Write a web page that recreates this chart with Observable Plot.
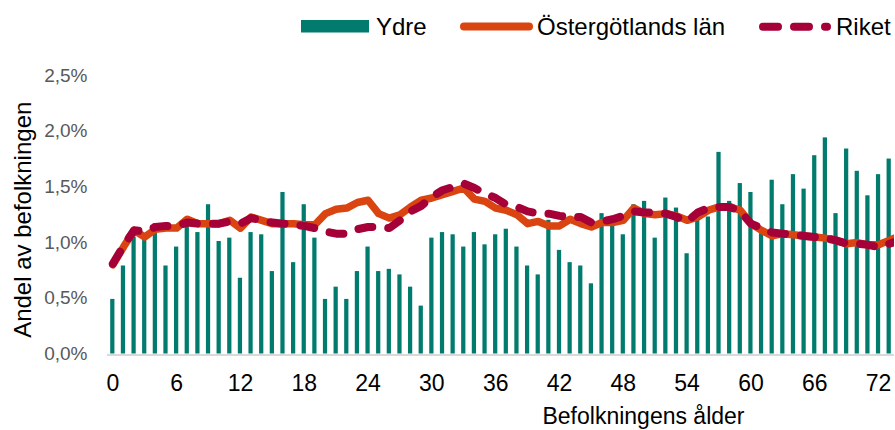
<!DOCTYPE html>
<html>
<head>
<meta charset="utf-8">
<script src="https://cdn.jsdelivr.net/npm/d3@7"></script>
<script src="https://cdn.jsdelivr.net/npm/@observablehq/plot@0.6"></script>
<style>
  html, body { margin: 0; padding: 0; background: #fff; }
  #wrap { position: relative; width: 895px; height: 430px; font-family: "Liberation Sans", Arial, sans-serif; }
  #legend { position: absolute; left: 0; top: 0; }
</style>
</head>
<body>
<div id="wrap"></div>
<script>
// Ages (bars) 0..73
const ages = d3.range(0, 74);
// Ydre share of population by age (%)
const ydre = [0.49,0.79,1.05,1.05,1.17,0.79,0.96,1.16,1.09,1.34,
              1.01,1.04,0.68,1.09,1.07,0.74,1.45,0.82,1.34,1.04,
              0.49,0.60,0.49,0.74,0.96,0.74,0.76,0.71,0.60,0.43,
              1.04,1.09,1.07,0.96,1.09,0.98,1.07,1.12,0.96,0.79,
              0.71,1.20,0.93,0.82,0.79,0.63,1.26,1.16,1.07,1.34,
              1.37,1.04,1.40,1.31,0.90,1.20,1.23,1.81,1.37,1.53,
              1.45,1.08,1.56,1.34,1.61,1.48,1.78,1.94,1.26,1.84,
              1.64,1.42,1.61,1.75];
// Line ages 0..74 (last one runs off the right edge)
const lineAges = d3.range(0, 75);
const ostergotland = [0.80,0.96,1.11,1.05,1.12,1.13,1.13,1.21,1.17,1.17,
                      1.17,1.20,1.13,1.23,1.20,1.17,1.17,1.17,1.16,1.16,
                      1.26,1.30,1.31,1.36,1.38,1.26,1.22,1.25,1.32,1.38,
                      1.40,1.43,1.46,1.49,1.39,1.37,1.31,1.29,1.25,1.17,
                      1.19,1.15,1.15,1.21,1.17,1.14,1.18,1.18,1.20,1.31,
                      1.26,1.25,1.26,1.24,1.20,1.23,1.29,1.32,1.32,1.29,
                      1.17,1.11,1.06,1.08,1.07,1.06,1.05,1.04,1.02,0.99,
                      1.00,0.98,0.98,1.02,1.06];
const riket = [0.81,0.97,1.11,1.10,1.14,1.15,1.15,1.18,1.17,1.17,
               1.17,1.19,1.17,1.22,1.20,1.18,1.17,1.16,1.15,1.13,
               1.10,1.08,1.08,1.12,1.14,1.14,1.13,1.20,1.28,1.33,
               1.41,1.47,1.50,1.53,1.49,1.44,1.40,1.34,1.32,1.28,
               1.26,1.26,1.24,1.23,1.23,1.18,1.19,1.21,1.24,1.28,
               1.27,1.27,1.26,1.23,1.19,1.27,1.31,1.32,1.32,1.28,
               1.17,1.13,1.09,1.08,1.07,1.06,1.05,1.04,1.02,0.99,
               0.99,0.98,0.96,0.99,1.02];
const xTicks = d3.range(0, 73, 6);
const yTicks = [0, 0.5, 1.0, 1.5, 2.0, 2.5];
const seriesNames = ["Ydre", "Östergötlands län", "Riket"];
const colors = ["#007B6E", "#DA4410", "#A50037"];

const bars = ages.map((a, i) => ({age: a, value: ydre[i]}));
const ostData = lineAges.map((a, i) => ({age: a, value: ostergotland[i]}));
const riketData = lineAges.map((a, i) => ({age: a, value: riket[i]}));

const chart = Plot.plot({
  width: 895,
  height: 430,
  marginLeft: 107,
  marginRight: 1,
  marginTop: 75,
  marginBottom: 76.5,
  style: {fontFamily: "'Liberation Sans', Arial, sans-serif", background: "white", overflow: "visible"},
  x: {type: "linear", domain: [-0.5, 73.5]},
  y: {domain: [0, 2.5]},
  marks: [
    Plot.ruleY([0], {stroke: "#d9d9d9", strokeWidth: 2, dy: 1}),
    Plot.rectY(bars, {
      x1: d => d.age - 0.5, x2: d => d.age + 0.5, y1: 0, y2: "value",
      insetLeft: 3.2, insetRight: 3.2, fill: colors[0]
    }),
    Plot.line(ostData, {x: "age", y: "value", stroke: colors[1], strokeWidth: 7.5,
      strokeLinejoin: "round", strokeLinecap: "round", clip: true}),
    Plot.line(riketData, {x: "age", y: "value", stroke: colors[2], strokeWidth: 8,
      strokeLinejoin: "round", strokeLinecap: "round", strokeDasharray: "14,16", clip: true}),
    Plot.axisX(xTicks, {tickSize: 0, tickPadding: 21, fontSize: 23, color: "#000", label: null}),
    Plot.axisY(yTicks, {tickSize: 0, tickPadding: 20, fontSize: 19, color: "#595959", label: null,
      tickFormat: d => d.toFixed(1).replace(".", ",") + "%"}),
    Plot.text(["Andel av befolkningen"], {text: d => d, frameAnchor: "left", rotate: -90,
      dx: -84, dy: 5, fontSize: 24, fill: "#000", textAnchor: "middle", lineAnchor: "middle"}),
    Plot.text(["Befolkningens ålder"], {text: d => d, frameAnchor: "bottom",
      dx: 142.5, dy: 63, fontSize: 23, fill: "#000", textAnchor: "middle", lineAnchor: "middle"})
  ]
});
document.getElementById("wrap").appendChild(chart);

// Legend above the plot area
const lg = d3.select("#wrap").append("svg").attr("id", "legend")
  .attr("width", 895).attr("height", 50)
  .style("font-family", "'Liberation Sans', Arial, sans-serif");
lg.append("rect").attr("x", 301).attr("y", 20).attr("width", 68).attr("height", 12.5).attr("fill", colors[0]);
lg.append("text").attr("x", 376).attr("y", 35).attr("font-size", 24).attr("fill", "#000").text(seriesNames[0]);
lg.append("line").attr("x1", 464).attr("x2", 529).attr("y1", 26.5).attr("y2", 26.5)
  .attr("stroke", colors[1]).attr("stroke-width", 8).attr("stroke-linecap", "round");
lg.append("text").attr("x", 537).attr("y", 35).attr("font-size", 24).attr("fill", "#000").text(seriesNames[1]);
lg.append("line").attr("x1", 763).attr("x2", 827).attr("y1", 26.7).attr("y2", 26.7)
  .attr("stroke", colors[2]).attr("stroke-width", 8).attr("stroke-linecap", "round")
  .attr("stroke-dasharray", "15,16");
lg.append("text").attr("x", 836).attr("y", 35).attr("font-size", 24).attr("fill", "#000").text(seriesNames[2]);
</script>
</body>
</html>
